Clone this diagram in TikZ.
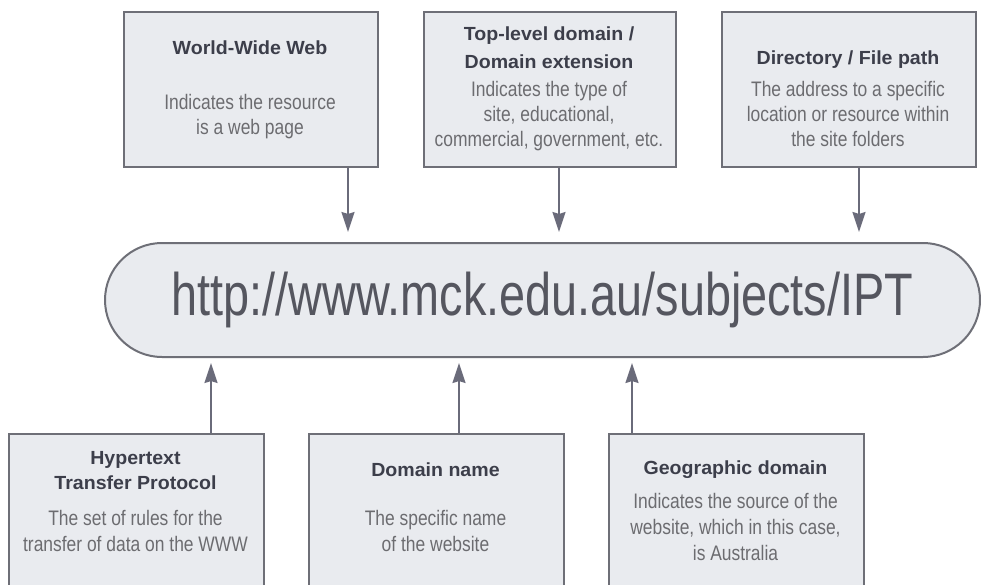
\documentclass[tikz,border=0pt]{standalone}
\usepackage{fontspec}
\setmainfont{Liberation Sans}
\newfontfamily\bodyfont{Liberation Sans}[FakeStretch=0.83]
\newfontfamily\titlefont{Liberation Sans}[FakeStretch=1.03]
\newfontfamily\urlfont{Liberation Sans}[FakeStretch=0.78]
\usetikzlibrary{arrows.meta}
\definecolor{boxfill}{HTML}{E9EBEF}
\definecolor{boxline}{HTML}{6E6F77}
\definecolor{arrcol}{HTML}{6A6B7A}
\definecolor{titlecol}{HTML}{3C3E4A}
\definecolor{bodycol}{HTML}{6C6C70}
\definecolor{urlcol}{HTML}{55565F}
\tikzset{
  infobox/.style={draw=boxline, line width=2pt, fill=boxfill, minimum width=254pt, minimum height=155pt, inner sep=0pt, anchor=north west},
  lowbox/.style={infobox, minimum height=200pt},
  ttl/.style={font=\titlefont\fontsize{19}{28}\selectfont\bfseries, text=titlecol, align=center, inner sep=0pt},
  ttlb/.style={ttl, font=\titlefont\fontsize{19}{25}\selectfont\bfseries},
  bdy/.style={font=\bodyfont\fontsize{21}{25}\selectfont, text=bodycol, align=center, inner sep=0pt},
  bdyb/.style={bdy, font=\bodyfont\fontsize{21}{26}\selectfont},
  arr/.style={draw=arrcol, line width=2pt, -{Stealth[length=20pt, width=13pt, inset=2pt]}}
}
\begin{document}
\begin{tikzpicture}[x=1pt, y=-1pt]
\clip (0,0) rectangle (981,585);
\fill[white] (0,0) rectangle (981,585);

% top boxes
\node[infobox] (t1) at (123,11) {};
\node[infobox, minimum width=252pt] (t2) at (423,11) {};
\node[infobox] (t3) at (721,11) {};

\node[ttl] (t1t) at (250,48) {World-Wide Web};
\node[bdy] (t1b) at (250,117) {Indicates the resource\\is a web page};

\node[ttl] (t2t) at (549,48) {Top-level domain /\\Domain extension};
\node[bdy] (t2b) at (549,116) {Indicates the type of\\site, educational,\\commercial, government, etc.};

\node[ttl] (t3t) at (848,60) {Directory / File path};
\node[bdy] (t3b) at (848,114) {The address to a specific\\location or resource within\\the site folders};

% URL
\node[draw=boxline, line width=2pt, fill=boxfill, rounded corners=57pt,
      minimum width=875pt, minimum height=114pt, inner sep=0pt,
      font=\urlfont\fontsize{60}{60}\selectfont, text=urlcol] (url) at (542.5,300) {http://www.mck.edu.au/subjects/IPT};

% bottom boxes
\node[lowbox, minimum width=255pt] (b1) at (8,433) {};
\node[lowbox, minimum width=255pt] (b2) at (308,433) {};
\node[lowbox, minimum width=255pt] (b3) at (608,433) {};

\node[ttlb] (b1t) at (135.5,471) {Hypertext\\Transfer Protocol};
\node[bdyb] (b1b) at (135.5,531) {The set of rules for the\\transfer of data on the WWW};

\node[ttlb] (b2t) at (435.5,470) {Domain name};
\node[bdyb] (b2b) at (435.5,531) {The specific name\\of the website};

\node[ttlb] (b3t) at (735.5,470) {Geographic domain};
\node[bdyb] (b3b) at (735.5,527) {Indicates the source of the\\website, which in this case,\\is Australia};

% arrow end points
\coordinate (a1) at (348,232);
\coordinate (a2) at (559,232);
\coordinate (a3) at (859,232);
\coordinate (c1) at (211,363);
\coordinate (c2) at (459,363);
\coordinate (c3) at (632,363);

\draw[arr] (t1.south -| a1) -- (a1);
\draw[arr] (t2.south -| a2) -- (a2);
\draw[arr] (t3.south -| a3) -- (a3);
\draw[arr] (b1.north -| c1) -- (c1);
\draw[arr] (b2.north -| c2) -- (c2);
\draw[arr] (b3.north -| c3) -- (c3);
\end{tikzpicture}
\end{document}
